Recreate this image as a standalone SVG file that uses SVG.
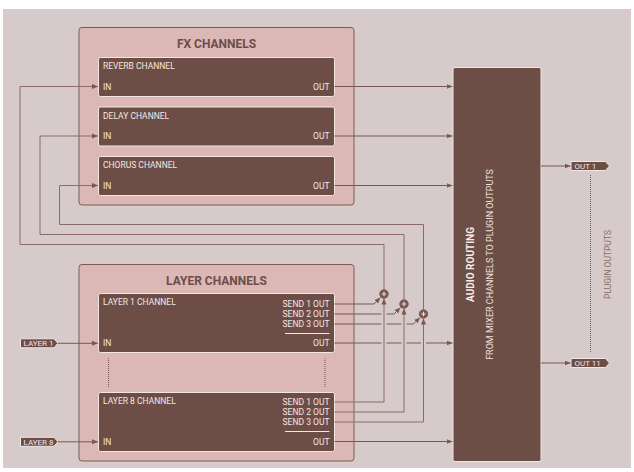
<svg xmlns="http://www.w3.org/2000/svg" width="634" height="472" viewBox="0 0 634 472">
<defs>
<marker id="ah" viewBox="0 0 6 6" refX="6" refY="3" markerWidth="6" markerHeight="6" markerUnits="userSpaceOnUse" orient="auto">
<path d="M0,0.5 L6,3 L0,5.5 Z" fill="#7a5651"/>
</marker>
<style>
.grp{fill:#dbb8b6;stroke:#7d5a55;stroke-width:1}
.ch{fill:#6d4e47;stroke:#f3e6e2;stroke-width:1}
.ttl{font-family:Roboto,"Liberation Sans",sans-serif;font-weight:bold;font-size:12px;fill:#6d4e47;text-anchor:middle}
.lb{font-family:Roboto,"Liberation Sans",sans-serif;font-size:8.5px;fill:#f3e8e4}
.rt{text-anchor:end}
.c{fill:none;stroke:#7a5651;stroke-width:1}
.cl{fill:none;stroke:#8c6b67;stroke-width:1}
.tag{fill:#6d4e47;stroke:#f3e6e2;stroke-width:1}
.tg{font-family:Roboto,"Liberation Sans",sans-serif;font-size:8px;fill:#f3e8e4}
.dot{fill:none;stroke:#7a5651;stroke-width:1;stroke-dasharray:1 1}
.sum{fill:#7a5651;stroke:#7a5651;stroke-width:1}
.pl{stroke:#e8dcd9;stroke-width:1.2}
</style>
</defs>
<rect x="0" y="0" width="634" height="472" fill="#ffffff"/>
<rect x="3" y="9" width="628" height="459" fill="#d6cbca"/>

<g id="fx-channels">
<rect class="grp" x="79" y="27.5" width="275" height="177.5" rx="3"/>
<text class="ttl" x="216.5" y="48">FX CHANNELS</text>
</g>
<g id="reverb">
<rect class="ch" x="98.5" y="57.5" width="236" height="39" rx="2"/>
<text class="lb" x="103" y="69">REVERB CHANNEL</text>
<text class="lb" x="103" y="89.5">IN</text>
<text class="lb rt" x="329.5" y="89.5">OUT</text>
</g>
<g id="delay">
<rect class="ch" x="98.5" y="107" width="236" height="39" rx="2"/>
<text class="lb" x="103" y="118.5">DELAY CHANNEL</text>
<text class="lb" x="103" y="139">IN</text>
<text class="lb rt" x="329.5" y="139">OUT</text>
</g>
<g id="chorus">
<rect class="ch" x="98.5" y="156.5" width="236" height="39" rx="2"/>
<text class="lb" x="103" y="168">CHORUS CHANNEL</text>
<text class="lb" x="103" y="188.5">IN</text>
<text class="lb rt" x="329.5" y="188.5">OUT</text>
</g>

<g id="layer-channels">
<rect class="grp" x="79" y="264.5" width="275" height="196.5" rx="3"/>
<text class="ttl" x="216.5" y="284.5">LAYER CHANNELS</text>
<line class="dot" x1="108.5" y1="358" x2="108.5" y2="387"/>
<line class="dot" x1="325" y1="358" x2="325" y2="387"/>
</g>
<g id="layer1">
<rect class="ch" x="98.5" y="293.5" width="236" height="59" rx="2"/>
<text class="lb" x="103" y="305">LAYER 1 CHANNEL</text>
<text class="lb rt" x="329.5" y="307">SEND 1 OUT</text>
<text class="lb rt" x="329.5" y="317">SEND 2 OUT</text>
<text class="lb rt" x="329.5" y="327">SEND 3 OUT</text>
<line x1="285" y1="333.5" x2="329.5" y2="333.5" stroke="#f3e8e4" stroke-width="1"/>
<text class="lb" x="103" y="346">IN</text>
<text class="lb rt" x="329.5" y="346">OUT</text>
</g>
<g id="layer8">
<rect class="ch" x="98.5" y="392.5" width="236" height="59" rx="2"/>
<text class="lb" x="103" y="404">LAYER 8 CHANNEL</text>
<text class="lb rt" x="329.5" y="405">SEND 1 OUT</text>
<text class="lb rt" x="329.5" y="415">SEND 2 OUT</text>
<text class="lb rt" x="329.5" y="425">SEND 3 OUT</text>
<line x1="285" y1="431.5" x2="329.5" y2="431.5" stroke="#f3e8e4" stroke-width="1"/>
<text class="lb" x="103" y="444.5">IN</text>
<text class="lb rt" x="329.5" y="444.5">OUT</text>
</g>

<g id="audio-routing">
<rect x="453" y="67.5" width="88" height="394" rx="2" fill="#6d4e47" stroke="#f3e6e2" stroke-width="1"/>
<text transform="translate(473.5,264.5) rotate(-90)" font-family="Roboto,'Liberation Sans',sans-serif" font-weight="bold" font-size="10" fill="#f5ebe7" text-anchor="middle">AUDIO ROUTING</text>
<text transform="translate(492.5,264.5) rotate(-90)" font-family="Roboto,'Liberation Sans',sans-serif" font-size="9" fill="#f0e3df" text-anchor="middle">FROM MIXER CHANNELS TO PLUGIN OUTPUTS</text>
</g>

<g id="tag-layer1">
<path class="tag" d="M20.5,338.8 H54 L58,343.3 L54,347.8 H20.5 Z"/>
<text class="tg" x="23.5" y="346.2">LAYER 1</text>
</g>
<g id="tag-layer8">
<path class="tag" d="M20.5,437.3 H54 L58,441.8 L54,446.3 H20.5 Z"/>
<text class="tg" x="23.5" y="444.7">LAYER 8</text>
</g>
<g id="tag-out1">
<path class="tag" d="M571,161.5 H605.5 L609.5,166 L605.5,170.5 H571 Z"/>
<text class="tg" x="574.5" y="169">OUT 1</text>
</g>
<g id="tag-out11">
<path class="tag" d="M571,358.5 H605.5 L609.5,363 L605.5,367.5 H571 Z"/>
<text class="tg" x="574.5" y="366">OUT 11</text>
</g>
<g id="plugin-outputs">
<line class="dot" x1="590.5" y1="175" x2="590.5" y2="353"/>
<text transform="translate(611,264.5) rotate(-90)" font-family="Roboto,'Liberation Sans',sans-serif" font-size="8.5" fill="#8a6c68" text-anchor="middle">PLUGIN OUTPUTS</text>
</g>

<g id="sum-nodes">
<g id="sum1"><circle class="sum" cx="384" cy="294" r="4.2"/><path class="pl" d="M381.8,294 H386.2 M384,291.8 V296.2"/></g>
<g id="sum2"><circle class="sum" cx="404" cy="304" r="4.2"/><path class="pl" d="M401.8,304 H406.2 M404,301.8 V306.2"/></g>
<g id="sum3"><circle class="sum" cx="423.5" cy="314" r="4.2"/><path class="pl" d="M421.3,314 H425.7 M423.5,311.8 V316.2"/></g>
</g>

<g id="connectors">
<path class="c" d="M334.5,86.5 H452.5" marker-end="url(#ah)"/>
<path class="c" d="M334.5,136 H452.5" marker-end="url(#ah)"/>
<path class="c" d="M334.5,185.5 H452.5" marker-end="url(#ah)"/>
<path class="cl" d="M384,289.5 V244.5 H20 V86.5 H98" marker-end="url(#ah)"/>
<path class="cl" d="M404,299.5 V234.5 H40 V136 H98" marker-end="url(#ah)"/>
<path class="cl" d="M423.5,309.5 V224.5 H59.5 V185.5 H98" marker-end="url(#ah)"/>
<path class="c" d="M334.5,304 H374 L380.5,297.5" marker-end="url(#ah)"/>
<path class="c" d="M334.5,314 H381.5 M386.5,314 H394 L400.5,307.5" marker-end="url(#ah)"/>
<path class="c" d="M334.5,324 H381.5 M386.5,324 H401.5 M406.5,324 H413.5 L420,317.5" marker-end="url(#ah)"/>
<path class="cl" d="M334.5,402 H384 V298.5" marker-end="url(#ah)"/>
<path class="cl" d="M334.5,412 H404 V308.5" marker-end="url(#ah)"/>
<path class="cl" d="M334.5,422 H423.5 V318.5" marker-end="url(#ah)"/>
<path class="c" d="M334.5,343 H381.5 M386.5,343 H401.5 M406.5,343 H421 M426,343 H452.5" marker-end="url(#ah)"/>
<path class="c" d="M334.5,441.5 H452.5" marker-end="url(#ah)"/>
<path class="c" d="M58,343.3 H98" marker-end="url(#ah)"/>
<path class="c" d="M58,441.8 H98" marker-end="url(#ah)"/>
<path class="c" d="M541,166 H570.5" marker-end="url(#ah)"/>
<path class="c" d="M541,363 H570.5" marker-end="url(#ah)"/>
</g>
</svg>
